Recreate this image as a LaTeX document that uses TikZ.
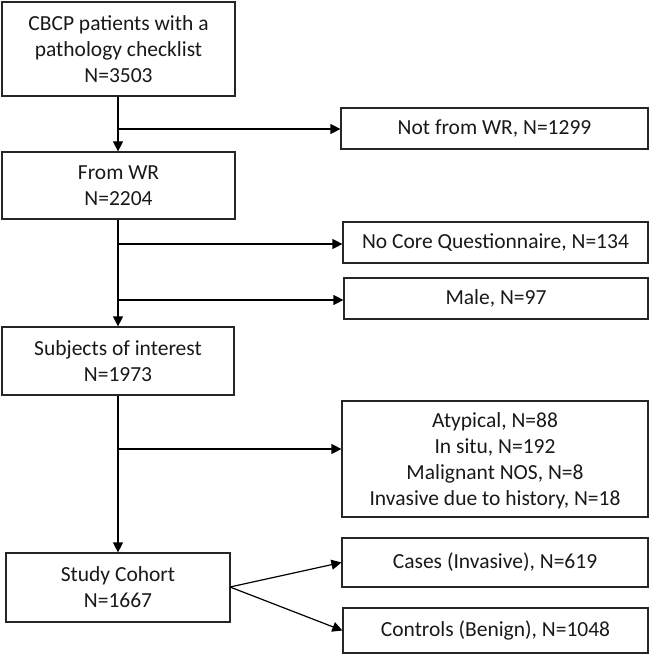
\documentclass[tikz,border=0pt]{standalone}
\usepackage{fontspec}
\setmainfont{Carlito}
\usetikzlibrary{arrows.meta}
\begin{document}
\begin{tikzpicture}[x=1pt,y=1pt,
  box/.style={draw=black!85, line width=1.2pt, inner sep=0pt, align=center,
    font=\fontsize{21.5}{26}\selectfont, text=black!90},
  arr/.style={draw=black, line width=1.2pt, -{Triangle[length=10pt,width=10pt]}},
  ln/.style={draw=black, line width=1.2pt}]
\useasboundingbox (0,0) rectangle (651,-655);
% left column
\node[box, minimum width=233pt, minimum height=94pt, text depth=-6pt] (b1) at (118.5,-49) {CBCP patients with a\\pathology checklist\\N=3503};
\node[box, minimum width=233pt, minimum height=67pt, text depth=-5pt] (b2) at (118.5,-185.5) {From WR\\N=2204};
\node[box, minimum width=232pt, minimum height=68pt] (b3) at (118,-361) {Subjects of interest\\N=1973};
\node[box, minimum width=224pt, minimum height=69pt] (b4) at (118,-587.5) {Study Cohort\\N=1667};
% right column
\node[box, minimum width=307pt, minimum height=41pt] (r1) at (494.5,-128.5) {Not from WR, N=1299};
\node[box, minimum width=305pt, minimum height=41pt] (r2) at (495.5,-242.5) {No Core Questionnaire, N=134};
\node[box, minimum width=304pt, minimum height=41pt] (r3) at (496,-298.5) {Male, N=97};
\node[box, minimum width=306pt, minimum height=116pt, text depth=-8pt] (r4) at (495,-459) {Atypical, N=88\\In situ, N=192\\Malignant NOS, N=8\\Invasive due to history, N=18};
\node[box, minimum width=306pt, minimum height=49pt] (r5) at (495,-562.5) {Cases (Invasive), N=619};
\node[box, minimum width=305pt, minimum height=45pt] (r6) at (495.5,-630.5) {Controls (Benign), N=1048};
% vertical flow
\draw[arr] (b1.south -| 118,0) -- (b2.north -| 118,0);
\draw[arr] (b2.south -| 118,0) -- (b3.north -| 118,0);
\draw[arr] (b3.south -| 118,0) -- (b4.north -| 118,0);
% branches
\coordinate (j1) at (118,-129);
\coordinate (j2) at (118,-244);
\coordinate (j3) at (118,-300);
\coordinate (j4) at (118,-449);
\draw[arr] (j1) -- (j1 -| r1.west);
\draw[arr] (j2) -- (j2 -| r2.west);
\draw[arr] (j3) -- (j3 -| r3.west);
\draw[arr] (j4) -- (j4 -| r4.west);
% split
\coordinate (s) at (230,-587);
\draw[arr] (s) -- (r5.west);
\draw[arr] (s) -- (r6.west);
\end{tikzpicture}
\end{document}
